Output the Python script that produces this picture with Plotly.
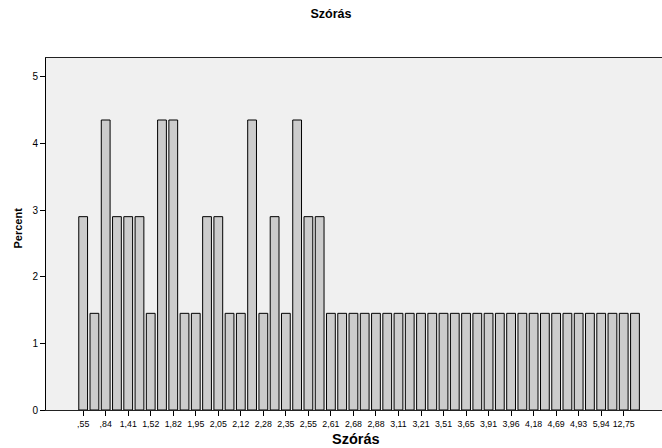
import plotly.graph_objects as go

# Percent of cases for each distinct "Szórás" value (50 bars)
percent = [
    2.90, 1.45, 4.35, 2.90, 2.90, 2.90, 1.45, 4.35, 4.35, 1.45,
    1.45, 2.90, 2.90, 1.45, 1.45, 4.35, 1.45, 2.90, 1.45, 4.35,
    2.90, 2.90, 1.45, 1.45, 1.45, 1.45, 1.45, 1.45, 1.45, 1.45,
    1.45, 1.45, 1.45, 1.45, 1.45, 1.45, 1.45, 1.45, 1.45, 1.45,
    1.45, 1.45, 1.45, 1.45, 1.45, 1.45, 1.45, 1.45, 1.45, 1.45,
]

# Labels shown on every second bar
tick_labels = [
    ",55", ",84", "1,41", "1,52", "1,82", "1,95", "2,05", "2,12", "2,28",
    "2,35", "2,55", "2,61", "2,68", "2,88", "3,11", "3,21", "3,51", "3,65",
    "3,91", "3,96", "4,18", "4,69", "4,93", "5,94", "12,75",
]

y_ticks = [0, 1, 2, 3, 4, 5]

positions = list(range(len(percent)))
tick_positions = positions[::2]

FONT = "Liberation Sans, Arial, sans-serif"

fig = go.Figure(
    go.Bar(
        x=positions,
        y=percent,
        width=0.78,
        marker=dict(color="#cccccc", line=dict(color="#000000", width=1)),
        hoverinfo="y",
    )
)

fig.update_layout(
    width=662,
    height=448,
    autosize=False,
    margin=dict(l=46, r=0, t=58, b=38),
    paper_bgcolor="white",
    plot_bgcolor="#f0f0f0",
    showlegend=False,
    font=dict(family=FONT, color="black"),
    title=dict(
        text="<b>Szórás</b>",
        x=0.5,
        xref="container",
        xanchor="center",
        y=1 - 14 / 448,
        yref="container",
        yanchor="middle",
        font=dict(size=12.5, family=FONT, color="black"),
    ),
    xaxis=dict(
        range=[-3.3, 51.4],
        tickmode="array",
        tickvals=tick_positions,
        ticktext=tick_labels,
        ticks="outside",
        ticklen=5,
        tickwidth=1,
        tickcolor="black",
        tickfont=dict(size=8.8, family=FONT),
        showline=True,
        linecolor="#222222",
        linewidth=1,
        mirror=True,
        showgrid=False,
        zeroline=False,
        fixedrange=True,
    ),
    yaxis=dict(
        range=[0, 5.28],
        tickmode="array",
        tickvals=y_ticks,
        ticktext=[str(v) for v in y_ticks],
        ticks="outside",
        ticklen=5,
        tickwidth=1,
        tickcolor="black",
        tickfont=dict(size=10, family=FONT),
        showline=True,
        linecolor="black",
        linewidth=1,
        showgrid=False,
        zeroline=False,
        fixedrange=True,
    ),
    annotations=[
        dict(
            text="<b>Szórás</b>",
            xref="paper", yref="paper",
            x=(356 - 46) / 616, y=-(439 - 410) / 352,
            xanchor="center", yanchor="middle",
            showarrow=False,
            font=dict(size=14.5, family=FONT, color="black"),
        ),
        dict(
            text="<b>Percent</b>",
            xref="paper", yref="paper",
            x=-(46 - 17.5) / 616, y=(410 - 228) / 352,
            xanchor="center", yanchor="middle",
            textangle=-90,
            showarrow=False,
            font=dict(size=11, family=FONT, color="black"),
        ),
    ],
)

fig.write_html("out.html")
